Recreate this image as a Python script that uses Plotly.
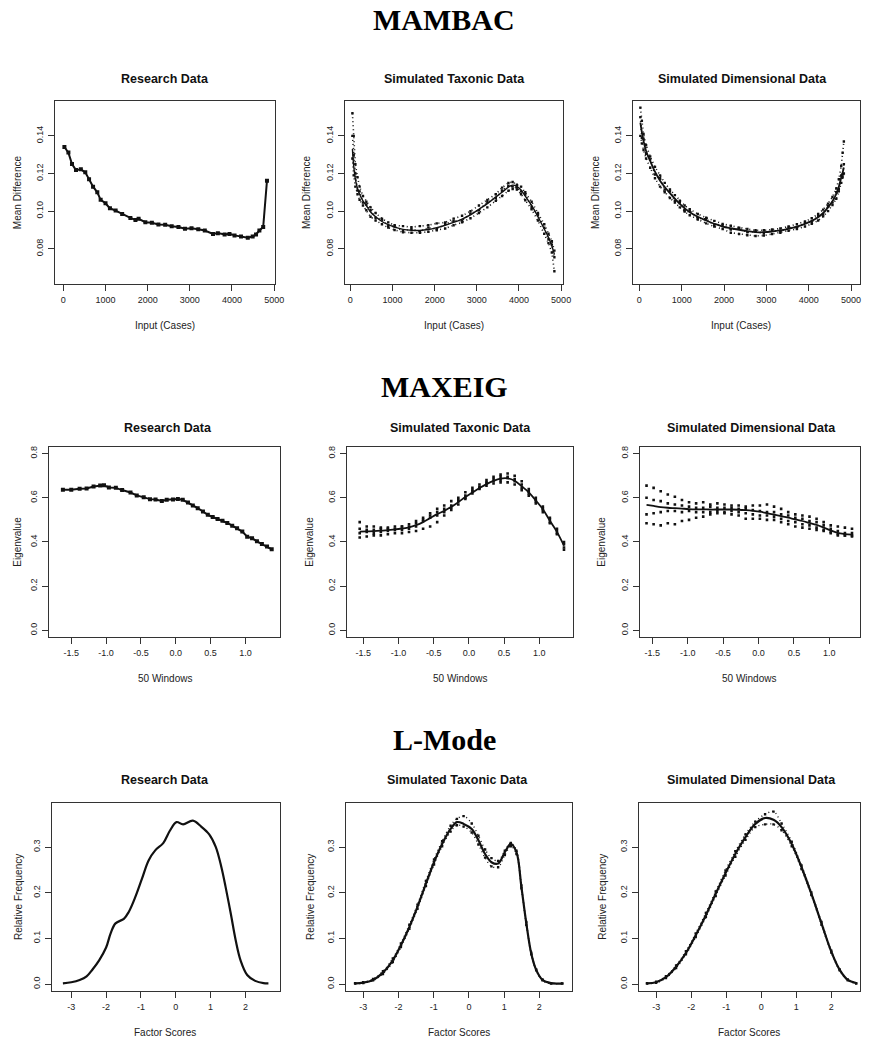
import plotly.graph_objects as go

W, H = 869, 1040

# ---------------- DATA ----------------
# MAMBAC - research
mam_res_x = [25, 120, 205, 300, 415, 520, 610, 705, 805, 885, 1000, 1105, 1240, 1395, 1590, 1710, 1785, 1945, 2100,
             2255, 2415, 2570, 2730, 2885, 3040, 3200, 3355, 3550, 3665, 3825, 3940, 4060, 4215, 4375, 4490, 4570,
             4650, 4740, 4830]
mam_res_y = [0.1341, 0.1311, 0.125, 0.1218, 0.1222, 0.1206, 0.117, 0.113, 0.110, 0.106, 0.1042, 0.1015, 0.1003,
             0.0985, 0.0964, 0.0953, 0.0959, 0.0941, 0.0938, 0.0929, 0.0927, 0.0920, 0.0916, 0.0906, 0.0909, 0.0904,
             0.0897, 0.0879, 0.0883, 0.0876, 0.0879, 0.0871, 0.0865, 0.0858, 0.0865, 0.0876, 0.0897, 0.0915, 0.1162]

# MAMBAC - simulated taxonic
mam_tax_x = [50, 80, 120, 170, 220, 300, 380, 480, 600, 750, 900, 1050, 1250, 1450, 1650, 1850, 2050, 2250, 2450,
             2650, 2850, 3050, 3250, 3450, 3600, 3750, 3850, 3950, 4050, 4150, 4300, 4450, 4600, 4700, 4780, 4840]
mam_tax_mean = [0.133, 0.124, 0.117, 0.112, 0.109, 0.1055, 0.103, 0.0995, 0.097, 0.0945, 0.0928, 0.0915, 0.0903,
                0.0898, 0.0897, 0.0902, 0.0912, 0.0925, 0.0940, 0.0958, 0.0980, 0.1010, 0.1040, 0.1075, 0.1100,
                0.1128, 0.1138, 0.1132, 0.1112, 0.1080, 0.1030, 0.0970, 0.0905, 0.0860, 0.0815, 0.0770]
mam_tax_rep1 = [0.152, 0.140, 0.125, 0.118, 0.113, 0.108, 0.105, 0.102, 0.099, 0.096, 0.094, 0.0925, 0.092, 0.0915,
                0.092, 0.0925, 0.0935, 0.094, 0.096, 0.0975, 0.100, 0.103, 0.106, 0.109, 0.1125, 0.115, 0.1155,
                0.114, 0.113, 0.110, 0.105, 0.099, 0.093, 0.088, 0.084, 0.079]
mam_tax_rep2 = [0.128, 0.119, 0.113, 0.109, 0.106, 0.103, 0.1005, 0.097, 0.095, 0.093, 0.0912, 0.090, 0.0888,
                0.0885, 0.0885, 0.089, 0.0898, 0.0908, 0.0925, 0.094, 0.0962, 0.099, 0.102, 0.1055, 0.108, 0.1108,
                0.1118, 0.1115, 0.109, 0.1058, 0.101, 0.095, 0.088, 0.083, 0.078, 0.068]
mam_tax_rep3 = [0.140, 0.130, 0.120, 0.111, 0.1105, 0.1045, 0.1035, 0.1005, 0.0965, 0.0955, 0.0922, 0.0918, 0.0895,
                0.0905, 0.0892, 0.0912, 0.0905, 0.0932, 0.0948, 0.095, 0.0988, 0.1005, 0.1048, 0.107, 0.111, 0.1135,
                0.113, 0.1125, 0.1105, 0.1088, 0.1022, 0.0978, 0.0912, 0.0852, 0.0822, 0.0755]

# MAMBAC - simulated dimensional
mam_dim_x = [25, 60, 100, 160, 257, 370, 490, 600, 723, 840, 956, 1070, 1190, 1380, 1579, 1770, 1967, 2160, 2356,
             2550, 2745, 2940, 3134, 3330, 3523, 3720, 3911, 4070, 4222, 4340, 4456, 4560, 4650, 4710, 4767, 4800,
             4829]
mam_dim_mean = [0.147, 0.142, 0.1373, 0.132, 0.1267, 0.121, 0.1162, 0.1128, 0.1096, 0.1066, 0.1038, 0.1015, 0.0994,
                0.0970, 0.0950, 0.0933, 0.0918, 0.0909, 0.0901, 0.0894, 0.0888, 0.0888, 0.0892, 0.0898, 0.0906,
                0.0918, 0.0932, 0.0948, 0.0968, 0.0990, 0.1020, 0.1052, 0.1091, 0.1130, 0.1179, 0.1205, 0.1232]
mam_dim_rep1 = [0.155, 0.148, 0.141, 0.135, 0.129, 0.1235, 0.119, 0.115, 0.1115, 0.1085, 0.1055, 0.103, 0.101,
                0.0985, 0.0965, 0.0948, 0.0932, 0.0922, 0.0912, 0.0905, 0.0898, 0.0898, 0.0902, 0.0908, 0.0918,
                0.093, 0.0945, 0.0962, 0.0985, 0.1008, 0.104, 0.1075, 0.112, 0.117, 0.124, 0.131, 0.137]
mam_dim_rep2 = [0.140, 0.136, 0.1325, 0.128, 0.123, 0.1175, 0.113, 0.110, 0.107, 0.1045, 0.102, 0.0998, 0.0978,
                0.0955, 0.0935, 0.0918, 0.0905, 0.0885, 0.0878, 0.0872, 0.0868, 0.0870, 0.0878, 0.0885, 0.0895,
                0.0905, 0.0918, 0.0932, 0.095, 0.0972, 0.1000, 0.1032, 0.1065, 0.1105, 0.115, 0.118, 0.120]
mam_dim_rep3 = [0.150, 0.139, 0.1385, 0.1305, 0.1275, 0.1195, 0.1175, 0.1115, 0.1105, 0.1055, 0.1045, 0.1005,
                0.1002, 0.0962, 0.0958, 0.0925, 0.0925, 0.0902, 0.0908, 0.0888, 0.0892, 0.0882, 0.0898, 0.0892,
                0.0912, 0.0912, 0.0938, 0.0942, 0.0975, 0.0982, 0.1028, 0.1045, 0.1100, 0.1118, 0.1190, 0.1195,
                0.1250]

# MAXEIG - research
mx_res_x = [-1.62, -1.50, -1.38, -1.28, -1.18, -1.085, -1.03, -0.96, -0.86, -0.77, -0.65, -0.56, -0.46, -0.37,
            -0.29, -0.20, -0.13, -0.04, 0.03, 0.10, 0.175, 0.245, 0.315, 0.39, 0.46, 0.53, 0.60, 0.67, 0.74, 0.81,
            0.88, 0.955, 1.025, 1.095, 1.165, 1.236, 1.31, 1.377]
mx_res_y = [0.636, 0.636, 0.641, 0.642, 0.651, 0.656, 0.657, 0.647, 0.645, 0.635, 0.624, 0.611, 0.602, 0.594, 0.592,
            0.586, 0.591, 0.592, 0.595, 0.591, 0.579, 0.565, 0.553, 0.538, 0.523, 0.513, 0.504, 0.496, 0.486, 0.474,
            0.462, 0.447, 0.424, 0.417, 0.403, 0.391, 0.379, 0.367]

# MAXEIG - simulated taxonic
mx_tax_x = [-1.55, -1.45, -1.35, -1.25, -1.15, -1.05, -0.95, -0.85, -0.75, -0.65, -0.55, -0.45, -0.35, -0.25, -0.15,
            -0.05, 0.05, 0.15, 0.25, 0.35, 0.45, 0.55, 0.65, 0.75, 0.85, 0.95, 1.05, 1.15, 1.25, 1.35]
mx_tax_mean = [0.447, 0.448, 0.449, 0.451, 0.454, 0.457, 0.461, 0.466, 0.476, 0.490, 0.508, 0.526, 0.541, 0.559,
               0.580, 0.604, 0.624, 0.644, 0.662, 0.677, 0.687, 0.688, 0.677, 0.652, 0.625, 0.588, 0.548, 0.496,
               0.446, 0.383]
mx_tax_rep1 = [0.49, 0.47, 0.47, 0.465, 0.465, 0.47, 0.47, 0.48, 0.495, 0.51, 0.53, 0.55, 0.565, 0.585, 0.60, 0.625,
               0.645, 0.66, 0.68, 0.695, 0.705, 0.71, 0.70, 0.675, 0.64, 0.60, 0.56, 0.51, 0.46, 0.40]
mx_tax_rep2 = [0.42, 0.425, 0.43, 0.43, 0.435, 0.44, 0.44, 0.445, 0.45, 0.46, 0.47, 0.49, 0.52, 0.545, 0.57, 0.595,
               0.62, 0.64, 0.655, 0.665, 0.67, 0.67, 0.66, 0.635, 0.61, 0.575, 0.535, 0.485, 0.435, 0.365]
mx_tax_rep3 = [0.46, 0.455, 0.44, 0.46, 0.45, 0.455, 0.47, 0.46, 0.47, 0.495, 0.51, 0.535, 0.55, 0.565, 0.59, 0.60,
               0.63, 0.65, 0.67, 0.685, 0.695, 0.695, 0.685, 0.66, 0.62, 0.59, 0.55, 0.50, 0.45, 0.375]
mx_tax_rep4 = [0.44, 0.445, 0.455, 0.445, 0.46, 0.46, 0.455, 0.47, 0.485, 0.50, 0.52, 0.52, 0.535, 0.555, 0.585,
               0.61, 0.635, 0.645, 0.665, 0.675, 0.68, 0.69, 0.675, 0.645, 0.63, 0.585, 0.545, 0.49, 0.44, 0.39]

# MAXEIG - simulated dimensional
mx_dim_x = [-1.58, -1.48, -1.38, -1.28, -1.18, -1.08, -0.98, -0.88, -0.78, -0.68, -0.58, -0.48, -0.38, -0.28, -0.18,
            -0.08, 0.02, 0.12, 0.22, 0.32, 0.42, 0.52, 0.62, 0.72, 0.82, 0.92, 1.02, 1.12, 1.22, 1.32]
mx_dim_mean = [0.568, 0.563, 0.558, 0.555, 0.553, 0.551, 0.549, 0.548, 0.548, 0.547, 0.547, 0.547, 0.547, 0.546,
               0.544, 0.541, 0.537, 0.531, 0.524, 0.517, 0.510, 0.502, 0.495, 0.486, 0.477, 0.465, 0.452, 0.441,
               0.436, 0.433]
mx_dim_rep1 = [0.655, 0.645, 0.63, 0.615, 0.605, 0.59, 0.58, 0.575, 0.58, 0.57, 0.575, 0.57, 0.565, 0.565, 0.56,
               0.565, 0.565, 0.57, 0.56, 0.55, 0.535, 0.525, 0.52, 0.515, 0.505, 0.49, 0.475, 0.47, 0.465, 0.46]
mx_dim_rep2 = [0.485, 0.48, 0.475, 0.485, 0.48, 0.495, 0.50, 0.51, 0.515, 0.525, 0.53, 0.53, 0.525, 0.52, 0.505,
               0.505, 0.505, 0.50, 0.50, 0.49, 0.48, 0.47, 0.465, 0.46, 0.455, 0.45, 0.44, 0.43, 0.43, 0.425]
mx_dim_rep3 = [0.60, 0.59, 0.585, 0.575, 0.57, 0.565, 0.56, 0.555, 0.555, 0.56, 0.555, 0.555, 0.555, 0.55, 0.55,
               0.545, 0.54, 0.535, 0.535, 0.525, 0.52, 0.51, 0.505, 0.495, 0.49, 0.475, 0.46, 0.45, 0.44, 0.44]
mx_dim_rep4 = [0.525, 0.53, 0.535, 0.54, 0.54, 0.535, 0.54, 0.535, 0.535, 0.535, 0.54, 0.535, 0.54, 0.535, 0.53,
               0.525, 0.52, 0.52, 0.515, 0.505, 0.495, 0.49, 0.48, 0.475, 0.465, 0.455, 0.445, 0.435, 0.43, 0.43]

# L-Mode - research
lm_res_x = [-3.24, -3.0, -2.76, -2.56, -2.39, -2.2, -2.0, -1.87, -1.73, -1.49, -1.35, -1.16, -0.97, -0.78, -0.59,
            -0.36, -0.17, 0.02, 0.21, 0.49, 0.73, 0.96, 1.15, 1.31, 1.43, 1.58, 1.72, 1.86, 2.05, 2.28, 2.52, 2.66]
lm_res_y = [0.0015, 0.004, 0.009, 0.017, 0.032, 0.052, 0.080, 0.111, 0.133, 0.143, 0.158, 0.191, 0.231, 0.271,
            0.293, 0.309, 0.336, 0.355, 0.350, 0.358, 0.345, 0.328, 0.300, 0.256, 0.213, 0.154, 0.096, 0.052, 0.020,
            0.007, 0.002, 0.0015]

# L-Mode - simulated taxonic
lm_tax_x = [-3.23, -3.0, -2.72, -2.44, -2.16, -1.93, -1.69, -1.46, -1.22, -0.99, -0.76, -0.52, -0.34, -0.15, 0.08,
            0.27, 0.46, 0.64, 0.83, 1.02, 1.19, 1.35, 1.49, 1.63, 1.77, 1.91, 2.09, 2.33, 2.65]
lm_tax_mean = [0.0015, 0.003, 0.009, 0.025, 0.052, 0.085, 0.125, 0.169, 0.220, 0.267, 0.307, 0.340, 0.355, 0.351,
               0.340, 0.315, 0.285, 0.267, 0.264, 0.289, 0.307, 0.289, 0.213, 0.133, 0.067, 0.031, 0.009, 0.002,
               0.0015]
lm_tax_rep1 = [0.002, 0.004, 0.011, 0.028, 0.056, 0.089, 0.130, 0.174, 0.226, 0.273, 0.313, 0.347, 0.362, 0.368,
               0.352, 0.325, 0.295, 0.276, 0.270, 0.292, 0.309, 0.292, 0.216, 0.136, 0.069, 0.032, 0.010, 0.002,
               0.0015]
lm_tax_rep2 = [0.001, 0.002, 0.008, 0.022, 0.048, 0.081, 0.121, 0.165, 0.215, 0.262, 0.302, 0.334, 0.348, 0.345,
               0.332, 0.306, 0.277, 0.258, 0.256, 0.283, 0.302, 0.285, 0.210, 0.130, 0.065, 0.030, 0.008, 0.001,
               0.001]

# L-Mode - simulated dimensional
lm_dim_x = [-3.26, -3.0, -2.72, -2.43, -2.15, -1.87, -1.58, -1.30, -1.02, -0.74, -0.45, -0.17, 0.11, 0.35, 0.58,
            0.87, 1.15, 1.43, 1.72, 2.0, 2.24, 2.47, 2.71]
lm_dim_mean = [0.0015, 0.004, 0.015, 0.038, 0.068, 0.107, 0.151, 0.198, 0.243, 0.285, 0.322, 0.351, 0.364, 0.360,
               0.344, 0.307, 0.256, 0.198, 0.133, 0.071, 0.031, 0.009, 0.002]
lm_dim_rep1 = [0.002, 0.005, 0.017, 0.041, 0.072, 0.111, 0.156, 0.203, 0.249, 0.291, 0.328, 0.356, 0.372, 0.378,
               0.352, 0.312, 0.260, 0.201, 0.136, 0.073, 0.032, 0.010, 0.002]
lm_dim_rep2 = [0.001, 0.003, 0.013, 0.035, 0.065, 0.103, 0.147, 0.193, 0.238, 0.279, 0.316, 0.344, 0.350, 0.350,
               0.337, 0.302, 0.252, 0.195, 0.130, 0.069, 0.030, 0.008, 0.001]

# Labels / ticks
section_titles = ["MAMBAC", "MAXEIG", "L-Mode"]
panel_titles = ["Research Data", "Simulated Taxonic Data", "Simulated Dimensional Data"]
x_titles = ["Input (Cases)", "50 Windows", "Factor Scores"]
y_titles = ["Mean Difference", "Eigenvalue", "Relative Frequency"]
mam_xticks = [0, 1000, 2000, 3000, 4000, 5000]
mam_xtick_text = ["0", "1000", "2000", "3000", "4000", "5000"]
mam_yticks = [0.08, 0.10, 0.12, 0.14]
mam_ytick_text = ["0.08", "0.10", "0.12", "0.14"]
mx_xticks = [-1.5, -1.0, -0.5, 0.0, 0.5, 1.0]
mx_xtick_text = ["-1.5", "-1.0", "-0.5", "0.0", "0.5", "1.0"]
mx_yticks = [0.0, 0.2, 0.4, 0.6, 0.8]
mx_ytick_text = ["0.0", "0.2", "0.4", "0.6", "0.8"]
lm_xticks = [-3, -2, -1, 0, 1, 2]
lm_xtick_text = ["-3", "-2", "-1", "0", "1", "2"]
lm_yticks = [0.0, 0.1, 0.2, 0.3]
lm_ytick_text = ["0.0", "0.1", "0.2", "0.3"]

# ---------------- LAYOUT GEOMETRY (window pixels) ----------------
SANS = "Liberation Sans, Arial, sans-serif"
SERIF = "Liberation Serif, Times New Roman, serif"
INK = "#111111"

rows = [
    dict(ybox=(100, 283), yrange=[0.0614, 0.1586], sub_y=78, xt_y=325, sec_y=19,
         xticks=(mam_xticks, mam_xtick_text), yticks=(mam_yticks, mam_ytick_text),
         boxes=[(56, 278), (349, 569), (640, 869)],
         xranges=[[-188, 5023], [-117, 5047], [-140, 5210]],
         sub_x=[167, 459, 750], xt_x=[167, 459, 749], yt_x=[17, 310, 602]),
    dict(ybox=(446, 637), yrange=[-0.032, 0.832], sub_y=427, xt_y=678, sec_y=386,
         xticks=(mx_xticks, mx_xtick_text), yticks=(mx_yticks, mx_ytick_text),
         boxes=[(50, 283), (351, 579), (647, 869)],
         xranges=[[-1.8125, 1.497], [-1.725, 1.478], [-1.668, 1.433]],
         sub_x=[170, 465, 759], xt_x=[167, 465, 757], yt_x=[18, 313, 608]),
    dict(ybox=(803, 991), yrange=[-0.0153, 0.3963], sub_y=780, xt_y=1032, sec_y=739,
         xticks=(lm_xticks, lm_xtick_text), yticks=(lm_yticks, lm_ytick_text),
         boxes=[(53, 283), (350, 578), (646, 869)],
         xranges=[[-3.54, 2.994], [-3.478, 2.927], [-3.48, 2.819]],
         sub_x=[167, 462, 759], xt_x=[167, 464, 757], yt_x=[18, 313, 608]),
]


def px_x(p):
    return p / W


def px_y(p):
    return 1 - p / H


fig = go.Figure()
annotations = []


def line_trace(x, y, ax, width=1.6, markers=False, msize=4, shape="linear"):
    return go.Scatter(x=x, y=y, xaxis="x" + ax, yaxis="y" + ax,
                      mode="lines+markers" if markers else "lines",
                      line=dict(color=INK, width=width, shape=shape),
                      marker=dict(symbol="square", size=msize, color=INK),
                      showlegend=False, hoverinfo="skip")


def dot_line(x, y, ax, width=1.6, shape="linear", dash="1px,3px"):
    return go.Scatter(x=x, y=y, xaxis="x" + ax, yaxis="y" + ax, mode="lines+markers",
                      line=dict(color=INK, width=width, dash=dash, shape=shape),
                      marker=dict(symbol="square", size=2.4, color=INK, line=dict(width=0)),
                      showlegend=False, hoverinfo="skip")


def dots(x, y, ax, size=2.6):
    return go.Scatter(x=x, y=y, xaxis="x" + ax, yaxis="y" + ax, mode="markers",
                      marker=dict(symbol="square", size=size, color=INK, line=dict(width=0)),
                      showlegend=False, hoverinfo="skip")


panel_traces = [
    # row 1
    [line_trace(mam_res_x, mam_res_y, "1", width=2.0, markers=True, msize=4)],
    [dot_line(mam_tax_x, mam_tax_rep1, "2"), dot_line(mam_tax_x, mam_tax_rep2, "2"),
     dot_line(mam_tax_x, mam_tax_rep3, "2"), line_trace(mam_tax_x, mam_tax_mean, "2", width=1.4, shape="spline")],
    [dot_line(mam_dim_x, mam_dim_rep1, "3"), dot_line(mam_dim_x, mam_dim_rep2, "3"),
     dot_line(mam_dim_x, mam_dim_rep3, "3"), line_trace(mam_dim_x, mam_dim_mean, "3", width=1.8, shape="spline")],
    # row 2
    [line_trace(mx_res_x, mx_res_y, "4", width=2.0, markers=True, msize=4)],
    [dots(mx_tax_x, mx_tax_rep1, "5"), dots(mx_tax_x, mx_tax_rep2, "5"), dots(mx_tax_x, mx_tax_rep3, "5"),
     dots(mx_tax_x, mx_tax_rep4, "5"), line_trace(mx_tax_x, mx_tax_mean, "5", width=1.8, shape="spline")],
    [dots(mx_dim_x, mx_dim_rep1, "6"), dots(mx_dim_x, mx_dim_rep2, "6"), dots(mx_dim_x, mx_dim_rep3, "6"),
     dots(mx_dim_x, mx_dim_rep4, "6"), line_trace(mx_dim_x, mx_dim_mean, "6", width=1.8, shape="spline")],
    # row 3
    [line_trace(lm_res_x, lm_res_y, "7", width=2.2, shape="spline")],
    [dot_line(lm_tax_x, lm_tax_rep1, "8", width=1.4, shape="spline"),
     dot_line(lm_tax_x, lm_tax_rep2, "8", width=1.4, shape="spline"),
     line_trace(lm_tax_x, lm_tax_mean, "8", width=2.2, shape="spline")],
    [dot_line(lm_dim_x, lm_dim_rep1, "9", width=1.4, shape="spline"),
     dot_line(lm_dim_x, lm_dim_rep2, "9", width=1.4, shape="spline"),
     line_trace(lm_dim_x, lm_dim_mean, "9", width=2.2, shape="spline")],
]

layout_axes = {}
for r, row in enumerate(rows):
    # section title
    annotations.append(dict(text="<b>%s</b>" % section_titles[r], x=px_x(449), y=px_y(row["sec_y"]),
                            xref="paper", yref="paper", xanchor="center", yanchor="middle", showarrow=False,
                            font=dict(family=SERIF, size=30, color="#000")))
    for c in range(3):
        k = r * 3 + c + 1
        ax = str(k)
        x0, x1 = row["boxes"][c]
        y0, y1 = row["ybox"]
        for tr in panel_traces[k - 1]:
            fig.add_trace(tr)
        common = dict(showline=True, mirror=True, linecolor="#333", linewidth=1.2, ticks="outside",
                      ticklen=6, tickwidth=1, tickcolor="#333", showgrid=False, zeroline=False,
                      tickfont=dict(family=SANS, size=9, color="#222"))
        layout_axes["xaxis" + ax] = dict(domain=[px_x(x0), min(px_x(x1), 1.0)], anchor="y" + ax,
                                         range=row["xranges"][c], tickmode="array",
                                         tickvals=row["xticks"][0], ticktext=row["xticks"][1],
                                         ticklabelstandoff=1, **common)
        layout_axes["yaxis" + ax] = dict(domain=[px_y(y1), px_y(y0)], anchor="x" + ax,
                                         range=row["yrange"], tickmode="array",
                                         tickvals=row["yticks"][0], ticktext=row["yticks"][1],
                                         tickangle=-90, ticklabelstandoff=2, **common)
        # panel title
        annotations.append(dict(text="<b>%s</b>" % panel_titles[c], x=px_x(row["sub_x"][c]),
                                y=px_y(row["sub_y"]), xref="paper", yref="paper", xanchor="center",
                                yanchor="middle", showarrow=False,
                                font=dict(family=SANS, size=12.5, color="#111")))
        # x title
        annotations.append(dict(text=x_titles[r], x=px_x(row["xt_x"][c]),
                                y=px_y(row["xt_y"]), xref="paper", yref="paper", xanchor="center",
                                yanchor="middle", showarrow=False,
                                font=dict(family=SANS, size=10, color="#222")))
        # y title
        annotations.append(dict(text=y_titles[r], x=px_x(row["yt_x"][c]), y=px_y((y0 + y1) / 2),
                                xref="paper", yref="paper", xanchor="center", yanchor="middle",
                                textangle=-90, showarrow=False,
                                font=dict(family=SANS, size=10, color="#222")))

fig.update_layout(width=W, height=H, margin=dict(l=0, r=0, t=0, b=0, pad=0),
                  paper_bgcolor="white", plot_bgcolor="white", annotations=annotations,
                  showlegend=False, **layout_axes)

# Remove the page's default body margin so the figure fills the window exactly.
fig.write_html("out.html", config={"displayModeBar": False},
               post_script="document.body.style.margin='0';document.body.style.overflow='hidden';")
